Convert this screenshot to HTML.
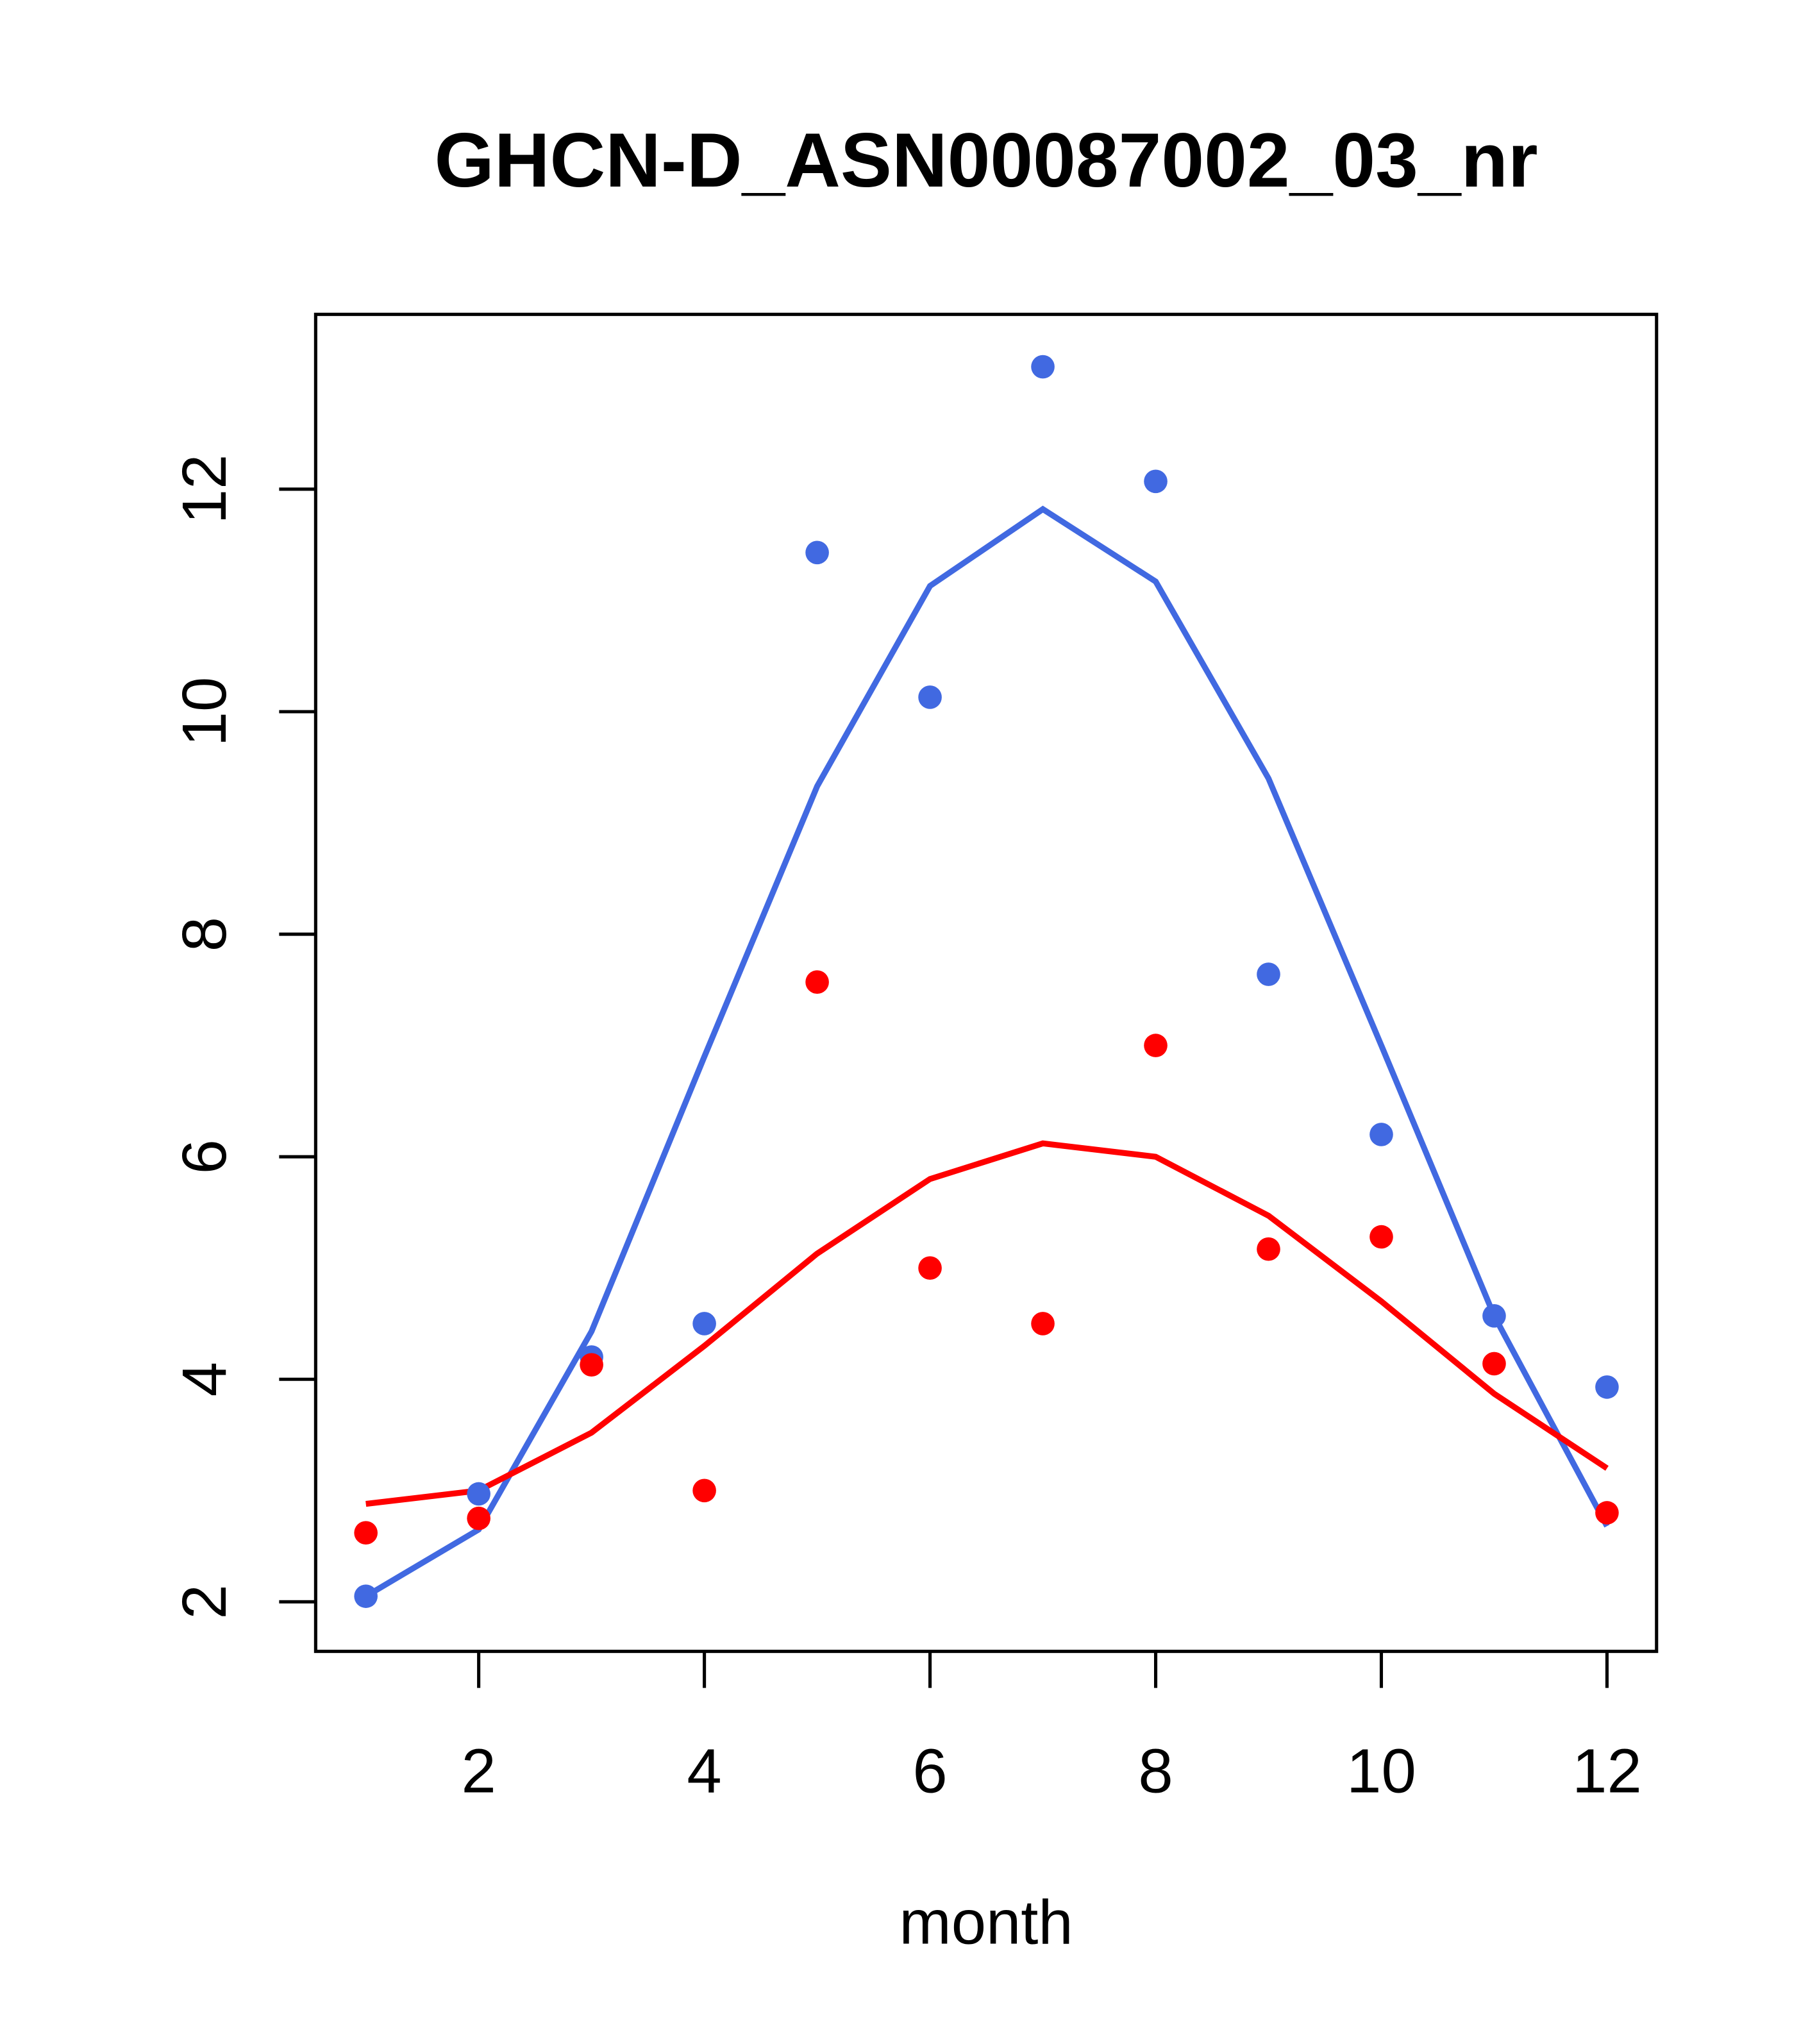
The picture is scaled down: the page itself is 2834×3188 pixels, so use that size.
<!DOCTYPE html>
<html><head><meta charset="utf-8"><style>
html,body{margin:0;padding:0;background:#fff;}
svg{display:block;}
text{font-family:"Liberation Sans",Arial,sans-serif;}
</style></head><body>
<svg id="chart" width="2834" height="3188" viewBox="0 0 1393 1567" preserveAspectRatio="none" xmlns="http://www.w3.org/2000/svg">
<rect width="1400" height="1575" fill="#fff"/>
<text x="756" y="143" font-size="59" font-weight="bold" text-anchor="middle">GHCN-D_ASN00087002_03_nr</text>
<rect x="242" y="241" width="1028" height="1025" fill="none" stroke="#000" stroke-width="2.5"/>
<text x="756" y="1490" font-size="48" text-anchor="middle">month</text>
<g id="axes"></g>
<g id="series"></g>
</svg>
<script>
const months=[1,2,3,4,5,6,7,8,9,10,11,12];
const bluePoints=[2.05,2.97,4.2,4.5,11.43,10.13,13.1,12.07,7.64,6.2,4.57,3.93];
const blueLine=[2.05,2.65,4.43,6.9,9.33,11.13,11.82,11.17,9.4,7.0,4.57,2.68];
const redPoints=[2.62,2.75,4.13,3.0,7.57,5.0,4.5,7.0,5.17,5.28,4.14,2.8];
const redLine=[2.88,3.0,3.52,4.3,5.13,5.8,6.12,6.0,5.47,4.7,3.87,3.2];
const xTicks=[2,4,6,8,10,12];
const yTicks=[2,4,6,8,10,12];

const NS="http://www.w3.org/2000/svg";
function xs(m){return 367+(m-2)*86.5;}
function ys(v){return 1228-(v-2)*85.3;}
const axes=document.getElementById('axes');
const series=document.getElementById('series');
function mk(tag,attrs,parent){const e=document.createElementNS(NS,tag);for(const k in attrs)e.setAttribute(k,attrs[k]);parent.appendChild(e);return e;}

xTicks.forEach(t=>{
  const l=mk('line',{x1:xs(t),x2:xs(t),y1:1266,y2:1294,stroke:'#000','stroke-width':2.5},axes);
  
  
  const tx=mk('text',{x:xs(t),y:1374,'font-size':48,'text-anchor':'middle'},axes);
  tx.textContent=t;
  
  
});
yTicks.forEach(t=>{
  const l=mk('line',{x1:214,x2:242,y1:ys(t),y2:ys(t),stroke:'#000','stroke-width':2.5},axes);
  
  
  const tx=mk('text',{x:0,y:0,'font-size':48,'text-anchor':'middle',transform:'translate(173,'+ys(t)+') rotate(-90)'},axes);
  tx.textContent=t;
  
  
});

function drawLine(vals,color,name){
  const p=mk('polyline',{points:months.map((m,i)=>xs(m)+','+ys(vals[i])).join(' '),fill:'none',stroke:color,'stroke-width':4.5},series);
  
  
}
function drawPts(vals,color,name){
  months.forEach((m,i)=>{
    const c=mk('circle',{cx:xs(m),cy:ys(vals[i]),r:9,fill:color},series);
    
    
  });
}
drawLine(blueLine,'#4169E1','blue-fit-line');
drawLine(redLine,'#FF0000','red-fit-line');
drawPts(bluePoints,'#4169E1','blue-point');
drawPts(redPoints,'#FF0000','red-point');
</script>
</body></html>
